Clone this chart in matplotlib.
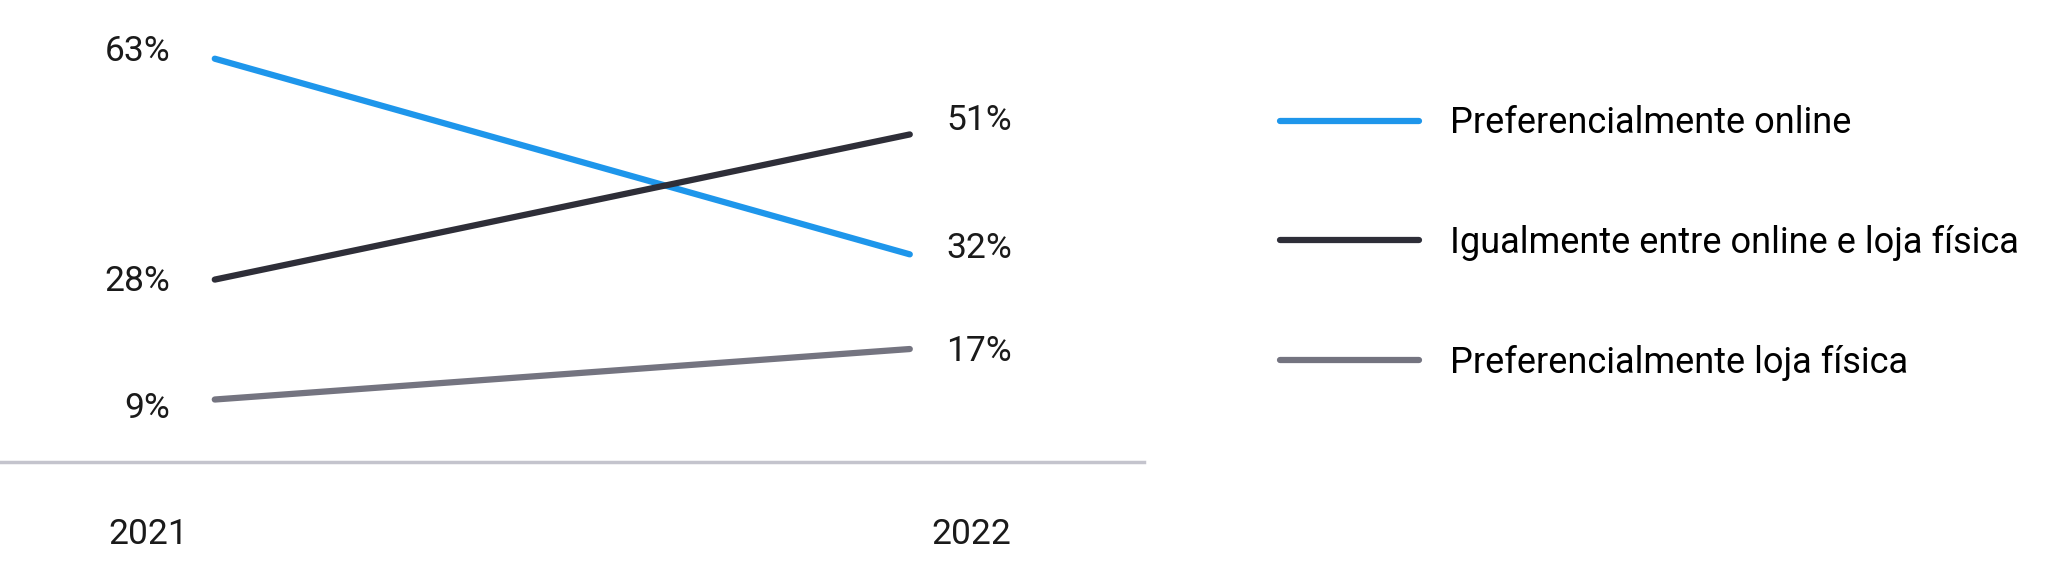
import matplotlib
matplotlib.use("Agg")
from matplotlib import pyplot as plt

plt.rcParams['font.family'] = ['Roboto', 'DejaVu Sans']

years = ['2021', '2022']
series_names = ['Preferencialmente online',
                'Igualmente entre online e loja física',
                'Preferencialmente loja física']
values_2021 = [63, 28, 9]
values_2022 = [32, 51, 17]

colors = ['#1E96EB', '#2E2E38', '#747480']
# small nudges (points) to keep the value labels off the lines
left_dy = [5, -1.5, -6.5]
right_dy = [4, 10, -2]

fs = 25.5

fig = plt.figure(figsize=(20.48, 5.78), dpi=100)
ax = fig.add_axes([0, 0.2007, 0.5586, 0.7993])

x = [0, 1]
for i, name in enumerate(series_names):
    ax.plot(x, [values_2021[i], values_2022[i]], color=colors[i], lw=4.5,
            solid_capstyle='round', label=name)
    ax.annotate(f"{values_2021[i]}%", (0, values_2021[i]), xytext=(-32, left_dy[i]),
                textcoords='offset points', ha='right', va='center',
                fontsize=fs, color='#1a1a1a')
    ax.annotate(f"{values_2022[i]}%", (1, values_2022[i]), xytext=(26, right_dy[i]),
                textcoords='offset points', ha='left', va='center',
                fontsize=fs, color='#1a1a1a')

# year labels under the baseline
year_dx = [-48, 44]
for xi, yr, dx in zip(x, years, year_dx):
    ax.annotate(yr, (xi, -0.9), xytext=(dx, -52),
                textcoords='offset points', ha='center', va='center',
                fontsize=fs, color='#1a1a1a', annotation_clip=False)

ax.set_xlim(-0.309, 1.337)
ax.set_ylim(-0.9, 72.3)
ax.axhline(-0.9, color='#C4C4CD', lw=2.5, clip_on=False)
for s in ax.spines.values():
    s.set_visible(False)
ax.set_xticks([])
ax.set_yticks([])

fig.legend(loc='upper left', bbox_to_anchor=(0.625, 0.818), frameon=False,
           fontsize=26, handlelength=3.85, handletextpad=0.85,
           labelspacing=2.32, borderpad=0, borderaxespad=0)

fig.savefig('out.png', dpi=100, facecolor='white')
